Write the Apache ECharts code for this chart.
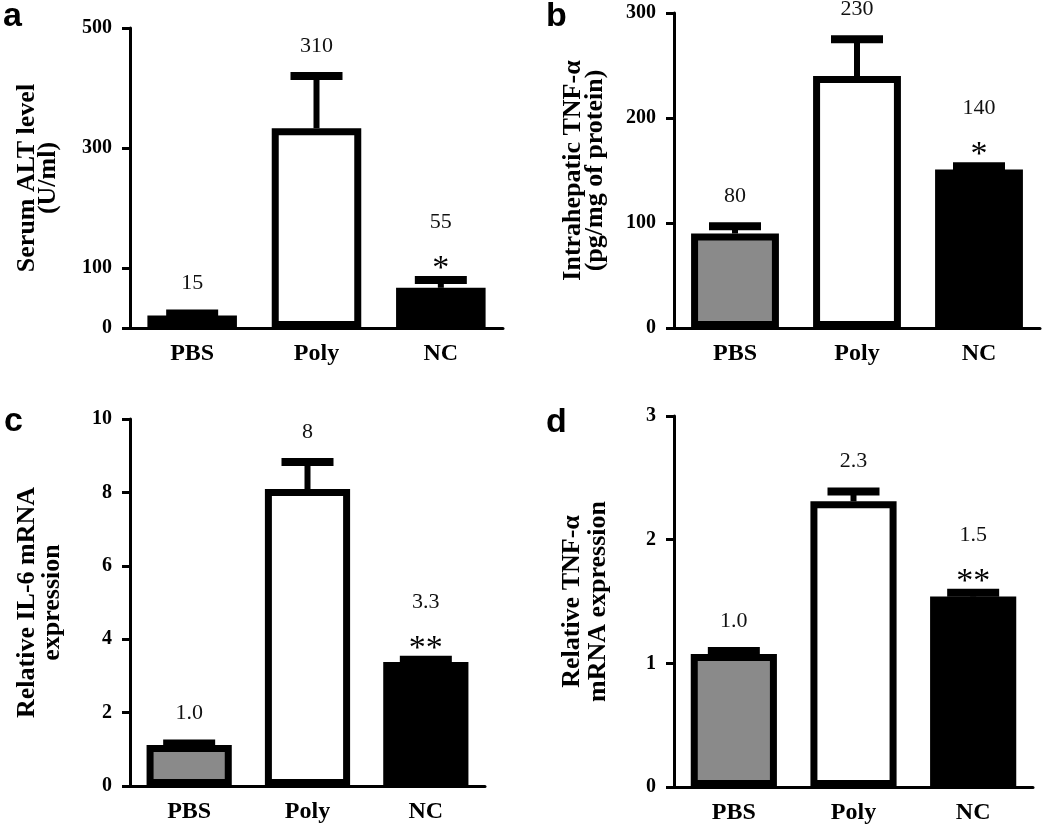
<!DOCTYPE html>
<html>
<head>
<meta charset="utf-8">
<script src="https://cdn.jsdelivr.net/npm/echarts@6/dist/echarts.min.js"></script>
<style>
html,body{margin:0;padding:0;background:#fff;}
#chart{width:1050px;height:827px;}
</style>
</head>
<body>
<div id="chart"></div>
<script>
// ---------- data ----------
const categories = ['PBS', 'Poly', 'NC'];

const aMeans = [21, 333, 67];
const aErrTop = [24, 420, 80];
const aLabels = ['15', '310', '55'];
const aStars = ['', '', '*'];
const aTicks = [0, 100, 300, 500];

const bMeans = [90, 240, 151];
const bErrTop = [97, 275, 154];
const bLabels = ['80', '230', '140'];
const bStars = ['', '', '*'];
const bTicks = [0, 100, 200, 300];

const cMeans = [1.12, 8.09, 3.38];
const cErrTop = [1.16, 8.83, 3.44];
const cLabels = ['1.0', '8', '3.3'];
const cStars = ['', '', '**'];
const cTicks = [0, 2, 4, 6, 8, 10];

const dMeans = [1.075, 2.31, 1.54];
const dErrTop = [1.1, 2.39, 1.57];
const dLabels = ['1.0', '2.3', '1.5'];
const dStars = ['', '', '**'];
const dTicks = [0, 1, 2, 3];

const barColors = ['#8a8a8a', '#ffffff', '#000000'];

// ---------- layout ----------
const SERIF = '"Liberation Serif", "Times New Roman", serif';
const SANS = '"Liberation Sans", Arial, sans-serif';

const panels = [
  {letter: 'a', grid: {left: 130, top: 28, width: 373, height: 300}, max: 500, lineH: 21,
   name: 'Serum ALT level\n(U/ml)', nameGap: 71, means: aMeans, err: aErrTop, labels: aLabels, stars: aStars, ticks: aTicks},
  {letter: 'b', grid: {left: 674, top: 13, width: 366, height: 315}, max: 300, lineH: 22,
   name: 'Intrahepatic TNF-\u03b1\n(pg/mg of protein)', nameGap: 68, means: bMeans, err: bErrTop, labels: bLabels, stars: bStars, ticks: bTicks},
  {letter: 'c', grid: {left: 130, top: 419, width: 355, height: 367}, max: 10, lineH: 25,
   name: 'Relative IL-6 mRNA\nexpression', nameGap: 65, means: cMeans, err: cErrTop, labels: cLabels, stars: cStars, ticks: cTicks},
  {letter: 'd', grid: {left: 674, top: 416, width: 359, height: 371}, max: 3, lineH: 26,
   name: 'Relative TNF-\u03b1\nmRNA expression', nameGap: 63, means: dMeans, err: dErrTop, labels: dLabels, stars: dStars, ticks: dTicks}
];

const letterPos = [[3, 30], [546, 30], [4, 435], [546, 436]];

const option = {
  animation: false,
  backgroundColor: '#ffffff',
  grid: [], xAxis: [], yAxis: [], series: [], graphic: []
};

panels.forEach(function (p, k) {
  option.grid.push(p.grid);
  option.xAxis.push({
    type: 'category', gridIndex: k, data: categories,
    axisLine: {lineStyle: {color: '#000', width: 3}},
    axisTick: {show: false},
    axisLabel: {margin: 14, color: '#000', fontFamily: SERIF, fontWeight: 'bold', fontSize: 24}
  });
  option.yAxis.push({
    type: 'value', gridIndex: k, min: 0, max: p.max,
    splitLine: {show: false},
    axisLine: {show: true, lineStyle: {color: '#000', width: 3}},
    axisTick: {show: true, inside: false, length: 8, lineStyle: {width: 3, color: '#000'}, customValues: p.ticks},
    axisLabel: {margin: 18, color: '#000', fontFamily: SERIF, fontWeight: 'bold', fontSize: 20, customValues: p.ticks},
    name: p.name, nameLocation: 'middle', nameRotate: 90, nameGap: p.nameGap,
    nameTextStyle: {color: '#000', fontFamily: SERIF, fontWeight: 'bold', fontSize: 26, lineHeight: p.lineH}
  });
  option.series.push({
    type: 'bar', xAxisIndex: k, yAxisIndex: k, barWidth: '72%',
    data: p.means.map(function (v, i) {
      return {value: v, itemStyle: {color: barColors[i]}};
    }),
    itemStyle: {borderColor: '#000', borderWidth: 7},
    z: 2
  });
  option.series.push({
    type: 'custom', xAxisIndex: k, yAxisIndex: k, z: 3, clip: false,
    data: p.means.map(function (v, i) { return [i, v, p.err[i]]; }),
    renderItem: function (params, api) {
      const i = api.value(0);
      const base = api.coord([i, api.value(1)]);
      const top = api.coord([i, api.value(2)]);
      const capW = 52;
      const star = p.stars[i];
      const numGap = star ? 58 : 30;
      const children = [
        {type: 'rect', shape: {x: base[0] - 3, y: top[1], width: 6, height: Math.max(0, base[1] - top[1])}, style: {fill: '#000'}},
        {type: 'rect', shape: {x: base[0] - capW / 2, y: top[1] - 4, width: capW, height: 8}, style: {fill: '#000'}},
        {type: 'text', style: {x: base[0], y: top[1] - numGap, text: p.labels[i], align: 'center', verticalAlign: 'middle',
          font: 'normal 22px ' + SERIF, fill: '#111'}}
      ];
      if (star) {
        children.push({type: 'text', style: {x: base[0], y: top[1] - 11, text: star, align: 'center', verticalAlign: 'middle',
          font: 'normal 34px ' + SERIF, fill: '#000'}});
      }
      return {type: 'group', children: children};
    }
  });
  option.graphic.push({
    type: 'text', left: letterPos[k][0], top: letterPos[k][1] - 30,
    style: {text: p.letter, font: 'bold 34px ' + SANS, fill: '#000'}
  });
});

const chart = echarts.init(document.getElementById('chart'), null, {renderer: 'canvas'});
chart.setOption(option);
</script>
</body>
</html>
